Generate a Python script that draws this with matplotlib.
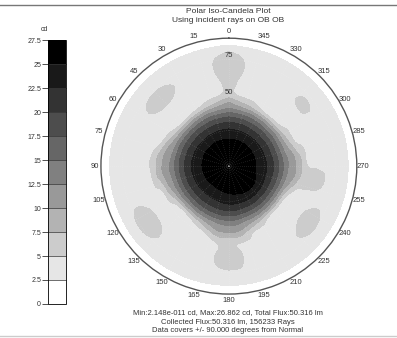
import numpy as np
import matplotlib
matplotlib.use('Agg')
import matplotlib.pyplot as plt
import matplotlib.tri as mtri
from matplotlib.colors import ListedColormap, BoundaryNorm

plt.rcParams['font.family'] = ['Liberation Sans', 'DejaVu Sans']

# azimuth of each row (deg, counter-clockwise from top) and polar angle columns (deg from normal)
azimuth_deg = list(range(0, 360, 10))
polar_deg = [0, 10, 20, 30, 40, 45, 50, 55, 60, 65, 70, 75, 80, 85, 90]

# intensity in cd, one row per azimuth
candela = [
    [26.86, 26.6, 24.7, 20.6, 13.0, 10.0, 6.2, 5.5, 5.8, 6.1, 6.2, 6.0, 5.2, 2.5, 0.8],
    [26.86, 26.6, 24.7, 20.3, 12.2, 8.0, 4.8, 4.5, 4.6, 4.8, 4.9, 4.8, 4.0, 2.2, 0.8],
    [26.86, 26.6, 24.7, 20.2, 11.8, 6.5, 4.6, 4.4, 4.4, 4.4, 4.4, 4.2, 3.4, 2.2, 0.8],
    [26.86, 26.6, 24.7, 20.0, 11.3, 5.4, 4.5, 4.4, 4.4, 4.5, 4.5, 4.2, 3.4, 2.2, 0.8],
    [26.86, 26.6, 24.6, 20.0, 11.0, 4.9, 4.4, 4.4, 4.6, 5.4, 5.5, 4.5, 3.4, 2.2, 0.8],
    [26.86, 26.6, 24.6, 20.0, 11.0, 4.9, 4.4, 4.4, 4.7, 5.6, 5.6, 4.6, 3.4, 2.2, 0.8],
    [26.86, 26.6, 24.7, 20.2, 11.8, 6.5, 4.6, 4.4, 4.4, 4.5, 4.5, 4.2, 3.4, 2.2, 0.8],
    [26.86, 26.6, 24.7, 20.4, 12.6, 9.0, 4.95, 4.5, 4.3, 4.2, 4.1, 4.0, 3.4, 2.2, 0.8],
    [26.86, 26.6, 24.7, 20.6, 13.2, 10.5, 7.5, 4.8, 4.4, 4.2, 4.1, 4.0, 3.4, 2.2, 0.8],
    [26.86, 26.6, 24.7, 20.8, 13.6, 11.0, 8.3, 5.2, 4.5, 4.3, 4.1, 4.0, 3.4, 2.2, 0.8],
    [26.86, 26.6, 24.6, 20.6, 13.2, 10.5, 7.5, 4.8, 4.4, 4.3, 4.2, 4.0, 3.4, 2.2, 0.8],
    [26.86, 26.6, 24.5, 20.4, 12.6, 9.0, 4.95, 4.5, 4.4, 4.4, 4.5, 4.3, 3.4, 2.2, 0.8],
    [26.86, 26.6, 24.4, 20.2, 11.8, 6.8, 4.6, 4.4, 4.6, 5.3, 5.7, 5.2, 3.7, 2.2, 0.8],
    [26.86, 26.6, 24.3, 20.0, 11.0, 4.95, 4.4, 4.4, 4.6, 5.3, 5.6, 5.1, 3.6, 2.2, 0.8],
    [26.86, 26.6, 24.2, 20.0, 11.0, 4.9, 4.4, 4.3, 4.3, 4.4, 4.5, 4.2, 3.4, 2.2, 0.8],
    [26.86, 26.6, 24.3, 20.1, 11.6, 6.2, 4.5, 4.3, 4.3, 4.3, 4.2, 4.0, 3.4, 2.2, 0.8],
    [26.86, 26.6, 24.4, 20.3, 12.3, 8.3, 4.8, 4.5, 4.4, 4.4, 4.3, 4.1, 3.4, 2.2, 0.8],
    [26.86, 26.6, 24.6, 20.6, 13.2, 10.5, 7.3, 4.8, 4.6, 4.8, 4.7, 4.3, 3.4, 2.2, 0.8],
    [26.86, 26.6, 24.8, 20.8, 13.6, 11.0, 7.8, 5.6, 5.9, 6.2, 5.6, 4.6, 3.5, 2.2, 0.8],
    [26.86, 26.7, 25.0, 20.8, 13.3, 10.5, 7.3, 4.8, 4.6, 4.8, 4.7, 4.3, 3.4, 2.2, 0.8],
    [26.86, 26.7, 25.2, 20.6, 12.4, 8.3, 4.8, 4.5, 4.4, 4.4, 4.3, 4.1, 3.4, 2.2, 0.8],
    [26.86, 26.7, 25.4, 20.6, 12.0, 6.5, 4.6, 4.4, 4.4, 4.4, 4.4, 4.2, 3.4, 2.2, 0.8],
    [26.86, 26.7, 25.5, 20.6, 11.3, 4.9, 4.4, 4.4, 4.4, 4.5, 4.5, 4.2, 3.4, 2.2, 0.8],
    [26.86, 26.7, 25.5, 20.5, 11.0, 4.7, 4.4, 4.4, 4.6, 5.3, 5.6, 4.8, 3.5, 2.2, 0.8],
    [26.86, 26.7, 25.3, 20.5, 11.2, 4.95, 4.4, 4.4, 4.6, 5.3, 5.5, 4.7, 3.5, 2.2, 0.8],
    [26.86, 26.7, 25.0, 20.5, 12.2, 7.8, 4.7, 4.5, 4.4, 4.4, 4.4, 4.1, 3.4, 2.2, 0.8],
    [26.86, 26.6, 24.8, 20.7, 13.2, 10.5, 7.5, 6.0, 5.8, 5.5, 4.6, 4.1, 3.4, 2.2, 0.8],
    [26.86, 26.6, 24.7, 20.8, 13.6, 11.0, 8.3, 5.1, 4.7, 4.5, 4.3, 4.0, 3.4, 2.2, 0.8],
    [26.86, 26.6, 24.7, 20.6, 13.2, 10.5, 7.3, 4.8, 4.4, 4.3, 4.2, 4.0, 3.4, 2.2, 0.8],
    [26.86, 26.6, 24.7, 20.3, 12.3, 8.3, 4.8, 4.4, 4.3, 4.3, 4.3, 4.1, 3.4, 2.2, 0.8],
    [26.86, 26.6, 24.7, 20.2, 11.8, 6.8, 4.6, 4.4, 4.4, 4.5, 4.5, 4.2, 3.4, 2.2, 0.8],
    [26.86, 26.6, 24.7, 20.0, 11.3, 5.4, 4.5, 4.4, 4.5, 5.2, 5.2, 4.4, 3.4, 2.2, 0.8],
    [26.86, 26.6, 24.7, 20.0, 11.1, 4.95, 4.4, 4.4, 4.4, 4.5, 4.5, 4.2, 3.4, 2.2, 0.8],
    [26.86, 26.6, 24.7, 20.0, 11.3, 5.4, 4.5, 4.4, 4.4, 4.4, 4.4, 4.2, 3.4, 2.2, 0.8],
    [26.86, 26.6, 24.7, 20.2, 11.8, 6.8, 4.6, 4.4, 4.4, 4.5, 4.6, 4.4, 3.6, 2.2, 0.8],
    [26.86, 26.6, 24.7, 20.3, 12.2, 8.0, 4.8, 4.5, 4.6, 4.8, 4.9, 4.8, 4.0, 2.2, 0.8],
]

levels = [0, 2.5, 5, 7.5, 10, 12.5, 15, 17.5, 20, 22.5, 25, 27.5]
theta_ticks = list(range(0, 360, 15))

# close the ring so 360 deg repeats 0 deg
az = np.radians(azimuth_deg + [360])
z = np.array(candela + [candela[0]])
T, R = np.meshgrid(az, polar_deg, indexing='ij')
n_az, n_r = T.shape

tris = []
for i in range(n_az - 1):
    for j in range(n_r - 1):
        a = i * n_r + j
        b = (i + 1) * n_r + j
        tris.append([a, b, b + 1])
        tris.append([a, b + 1, a + 1])
triang = mtri.Triangulation(T.ravel(), R.ravel(), tris)
refiner = mtri.UniformTriRefiner(triang)
tri_fine, z_fine = refiner.refine_field(z.ravel(), subdiv=3)
z_fine = np.clip(z_fine, 0, 27.4)

grays = [str(1 - k / 10) for k in range(11)]
cmap = ListedColormap(grays)
norm = BoundaryNorm(levels, cmap.N)

fig = plt.figure(figsize=(3.97, 3.38), dpi=100)

ax = fig.add_axes([0.254, 0.130, 0.645, 0.757], projection='polar')
ax.set_theta_zero_location('N')
ax.set_theta_direction(1)
cs = ax.tricontourf(tri_fine, z_fine, levels=levels, cmap=cmap, norm=norm)
ax.set_ylim(0, 90)
ax.set_thetagrids(theta_ticks, labels=[str(t) for t in theta_ticks])
ax.set_rgrids([25, 50, 75], labels=['', '', ''])
ax.grid(True, color='white', alpha=0.22, lw=0.5, linestyle=(0, (1, 2)))
ax.tick_params(axis='x', labelsize=5.5, colors='#333333', pad=-6)
ax.spines['polar'].set_color('#555555')
ax.spines['polar'].set_linewidth(1.0)
ax.text(0, 52, '50', ha='center', va='center', fontsize=5.5, color='#333333')
ax.text(0, 78, '75', ha='center', va='center', fontsize=5.5, color='#333333')

cax = fig.add_axes([0.121, 0.1006, 0.046, 0.781])
cbar = fig.colorbar(cs, cax=cax, ticks=levels, drawedges=True)
cbar.outline.set_linewidth(0.6)
cbar.dividers.set_color('#333333')
cbar.dividers.set_linewidth(0.5)
cax.yaxis.set_ticks_position('left')
cax.yaxis.set_label_position('left')
cax.set_yticklabels(['%g' % v for v in levels])
cax.tick_params(axis='y', labelsize=5, colors='#333333', length=4, width=0.6, pad=1)
fig.text(0.111, 0.914, 'cd', ha='center', va='center', fontsize=5, color='#333333')

fig.text(0.574, 0.967, 'Polar Iso-Candela Plot', ha='center', va='center', fontsize=6, color='#333333')
fig.text(0.574, 0.938, 'Using incident rays on OB OB', ha='center', va='center', fontsize=6, color='#333333')
fig.text(0.574, 0.074, 'Min:2.148e-011 cd, Max:26.862 cd, Total Flux:50.316 lm',
         ha='center', va='center', fontsize=5.5, color='#333333')
fig.text(0.574, 0.046, 'Collected Flux:50.316 lm, 156233 Rays',
         ha='center', va='center', fontsize=5.5, color='#333333')
fig.text(0.574, 0.021, 'Data covers +/- 90.000 degrees from Normal',
         ha='center', va='center', fontsize=5.5, color='#333333')

# frame lines along the top and bottom edges
fig.add_artist(plt.Line2D([0, 1], [1 - 5 / 338, 1 - 5 / 338], color='#777777', lw=1.0))
fig.add_artist(plt.Line2D([0, 1], [2 / 338, 2 / 338], color='#cccccc', lw=1.0))

fig.savefig('out.png', dpi=100)
